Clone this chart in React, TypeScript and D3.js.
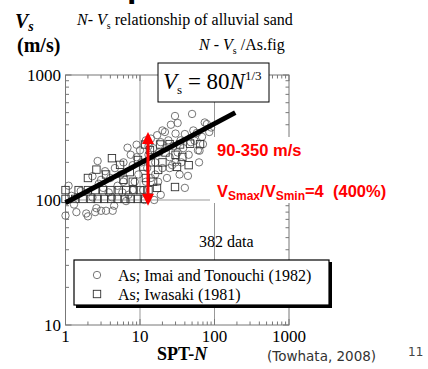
import React from "react";
import * as d3 from "d3";

// Imai and Tonouchi (1982) - circles
const circleN = [1, 1.4, 1.9, 2.5, 2.6, 3, 3.5, 4.3, 4.5, 6.5, 2,
  1.2, 1.1, 1.6, 2.3, 2.8, 1.3,
  2.7, 2.3, 3.4, 3.0, 4, 4.6, 5, 3.8, 5.5, 6, 6.8, 9, 7.5, 8, 8.5, 7, 10, 9.5, 10.5,
  11, 11.5, 12, 12.5, 13, 14, 14, 15, 15.5, 16, 17, 17.5, 18, 19, 19, 20, 20, 21.6, 22, 23,
  24, 25, 26, 27, 29.5, 28, 30, 32, 32, 34, 35, 36, 38, 40, 40, 44, 45,
  50, 48, 52, 54, 58, 60, 63, 68, 74, 79, 85, 62, 70, 90,
  6, 8, 12, 16, 9, 13, 25, 30, 3.2, 4.2, 5.8];
const circleV = [75, 80, 78, 80, 86, 82, 82, 82, 90, 98, 74,
  108, 130, 118, 105, 135, 92,
  205, 155, 170, 145, 150, 180, 130, 115, 160, 200, 262, 277, 230, 190, 140, 110, 250, 160, 200,
  120, 100, 300, 180, 230, 150, 310, 260, 100, 200, 330, 140, 240, 290, 110, 180, 360, 350, 260, 150,
  300, 220, 400, 190, 470, 270, 340, 413, 240, 160, 300, 200, 260, 337, 125, 156, 230,
  488, 290, 360, 298, 344, 250, 248, 320, 417, 405, 350, 200, 280, 380,
  140, 120, 140, 160, 220, 270, 180, 200, 125, 105, 115];

// Iwasaki (1981) - squares
const squareN = [1, 1.35, 1.7, 2.2, 2.7, 3.3, 4.1, 5, 6.2, 7.5, 9.3, 11.5,
  1, 1.5, 2, 2.5, 3.2, 4, 5.2, 6.5, 8.2, 10, 13,
  2, 2.6, 4.2, 5.4, 3.5, 7.3, 9.4, 13.6, 16.9, 17.5, 20, 29.5, 31.4, 37, 45, 12, 15, 11, 22, 6, 8, 14, 30,
  11.7, 18.6, 25, 34.5, 47, 64];
const squareV = [102, 102, 102, 102, 102, 102, 102, 102, 102, 102, 102, 102,
  120, 120, 120, 120, 120, 120, 120, 120, 120, 120, 120,
  150, 175, 216, 191, 160, 167, 209, 251, 125, 174, 200, 127, 184, 221, 190, 150, 140, 185, 240, 145, 140, 200, 230,
  278, 278, 280, 278, 282, 280];

// regression line as drawn, and the red range arrow
const lineN = [1, 190];
const lineV = [95, 500];
const arrowN = 12.8;
const arrowV = [90, 350];

const xTickLabels = ["1", "10", "100", "1000"];
const yTickLabels = ["10", "100", "1000"];

const serif = "'Liberation Serif', 'Times New Roman', serif";
const sans = "'Liberation Sans', Arial, sans-serif";

export default function App() {
  const x = d3.scaleLog().domain([1, 1000]).range([65.5, 289]);
  const y = d3.scaleLog().domain([10, 1000]).range([325, 75]);
  const isMajor = (v: number) => Math.abs(Math.log10(v) - Math.round(Math.log10(v))) < 1e-6;
  const xt = x.ticks();
  const yt = y.ticks();
  const axisCol = "#777";
  const line = d3.line<number>().x((_, i) => x(lineN[i])).y((d) => y(d));

  const ax = x(arrowN);
  const aTop = y(arrowV[1]);
  const aBot = y(arrowV[0]);

  return (
    <svg width={428} height={369} style={{ position: "absolute", left: 0, top: 0, background: "#fff" }}>
      {/* cut-off slide heading */}
      <text x={127} y={-3} fontFamily={sans} fontWeight="bold" fontSize={34} fill="#000">p</text>

      {/* titles */}
      <text x={15} y={28} fontFamily={serif} fontWeight="bold" fontStyle="italic" fontSize={20}>
        V<tspan fontSize={14} dy={3}>s</tspan>
      </text>
      <text x={17} y={52} fontFamily={serif} fontWeight="bold" fontSize={20}>(m/s)</text>
      <text x={77} y={25} fontFamily={serif} fontSize={16}>
        <tspan fontStyle="italic">N</tspan>- <tspan fontStyle="italic">V</tspan>
        <tspan fontSize={10} dy={4}>s</tspan>
        <tspan dy={-4}> relationship of alluvial sand</tspan>
      </text>
      <text x={199} y={50} fontFamily={serif} fontSize={16}>
        <tspan fontStyle="italic">N</tspan> - <tspan fontStyle="italic">V</tspan>
        <tspan fontSize={10} dy={4}>s</tspan>
        <tspan dy={-4}> /As.fig</tspan>
      </text>

      {/* gridlines */}
      {[10, 100].map((v) => (
        <line key={"gx" + v} x1={x(v)} x2={x(v)} y1={y(1000)} y2={y(10)} stroke="#999" strokeWidth={1} />
      ))}
      <line x1={x(1)} x2={x(1000)} y1={y(100)} y2={y(100)} stroke="#999" strokeWidth={1} />

      {/* frame */}
      <rect x={x(1)} y={y(1000)} width={x(1000) - x(1)} height={y(10) - y(1000)} fill="none" stroke={axisCol} strokeWidth={1} />
      {xt.map((v, i) => {
        const len = isMajor(v) ? 6 : 3.5;
        return (
          <g key={"xt" + i} stroke={axisCol} strokeWidth={1}>
            <line x1={x(v)} x2={x(v)} y1={y(10)} y2={y(10) - len} />
            <line x1={x(v)} x2={x(v)} y1={y(1000)} y2={y(1000) + len} />
          </g>
        );
      })}
      {yt.map((v, i) => {
        const len = isMajor(v) ? 6 : 3.5;
        return (
          <g key={"yt" + i} stroke={axisCol} strokeWidth={1}>
            <line x1={x(1)} x2={x(1) + len} y1={y(v)} y2={y(v)} />
            <line x1={x(1000)} x2={x(1000) - len} y1={y(v)} y2={y(v)} />
          </g>
        );
      })}
      {xTickLabels.map((t) => (
        <text key={"xl" + t} x={x(+t)} y={342} textAnchor="middle" fontFamily={serif} fontSize={17}>{t}</text>
      ))}
      {yTickLabels.map((t) => (
        <text key={"yl" + t} x={61} y={y(+t) + 5.5} textAnchor="end" fontFamily={serif} fontSize={17}>{t}</text>
      ))}

      {/* data */}
      {circleN.map((n, i) => (
        <circle key={"c" + i} cx={x(n)} cy={y(circleV[i])} r={3.7} fill="none" stroke="#666" strokeWidth={0.9} />
      ))}
      {squareN.map((n, i) => (
        <rect key={"s" + i} x={x(n) - 3.7} y={y(squareV[i]) - 3.7} width={7.4} height={7.4} fill="none" stroke="#333" strokeWidth={0.9} />
      ))}

      {/* Vs = 80 N^1/3 */}
      <path d={line(lineV) || ""} stroke="#000" strokeWidth={5} fill="none" />

      {/* red arrow */}
      <line x1={ax} x2={ax} y1={aTop + 10} y2={aBot - 10} stroke="#ff0000" strokeWidth={3} />
      <path d={`M${ax},${aTop} L${ax - 6},${aTop + 12} L${ax + 6},${aTop + 12} Z`} fill="#ff0000" />
      <path d={`M${ax},${aBot} L${ax - 6},${aBot - 12} L${ax + 6},${aBot - 12} Z`} fill="#ff0000" />

      {/* equation box */}
      <rect x={158} y={63} width={111} height={39} fill="#fff" stroke="#000" strokeWidth={1} />
      <text x={163} y={89} fontFamily={serif} fontSize={23}>
        <tspan fontStyle="italic">V</tspan>
        <tspan fontSize={13} dy={5}>s</tspan>
        <tspan dy={-5}> = 80</tspan>
        <tspan fontStyle="italic">N</tspan>
        <tspan fontSize={13} dy={-9}>1/3</tspan>
      </text>

      {/* red annotations */}
      <rect x={210} y={137} width={185} height={66} fill="#fff" />
      <text x={217} y={156} fontFamily={sans} fontWeight="bold" fontSize={16.5} fill="#ff0000">90-350 m/s</text>
      <text x={217} y={197} fontFamily={sans} fontWeight="bold" fontSize={16.5} fill="#ff0000" style={{ whiteSpace: "pre" }}>
        V<tspan fontSize={12} dy={3}>Smax</tspan>
        <tspan dy={-3}>/V</tspan>
        <tspan fontSize={12} dy={3}>Smin</tspan>
        <tspan dy={-3}>{"=4  (400%)"}</tspan>
      </text>

      <text x={199} y={247} fontFamily={serif} fontSize={16}>382 data</text>

      {/* legend */}
      <rect x={76} y={262} width={256} height={46} fill="#000" />
      <rect x={74} y={260} width={255} height={45} fill="#fff" stroke="#000" strokeWidth={1.2} />
      <circle cx={97} cy={275} r={3.7} fill="none" stroke="#666" strokeWidth={0.9} />
      <rect x={93.3} y={290.3} width={7.4} height={7.4} fill="none" stroke="#333" strokeWidth={0.9} />
      <text x={118} y={281} fontFamily={serif} fontSize={16}>As; Imai and Tonouchi (1982)</text>
      <text x={118} y={300} fontFamily={serif} fontSize={16}>As; Iwasaki (1981)</text>

      {/* axis title and source */}
      <text x={157} y={360} fontFamily={serif} fontWeight="bold" fontSize={18}>
        SPT-<tspan fontStyle="italic">N</tspan>
      </text>
      <text x={267} y={361} fontFamily="'DejaVu Sans', Verdana, sans-serif" fontSize={13.5} fill="#333">(Towhata, 2008)</text>
      <text x={408} y={356} fontFamily="'DejaVu Sans', Verdana, sans-serif" fontSize={12} fill="#444">11</text>
    </svg>
  );
}
